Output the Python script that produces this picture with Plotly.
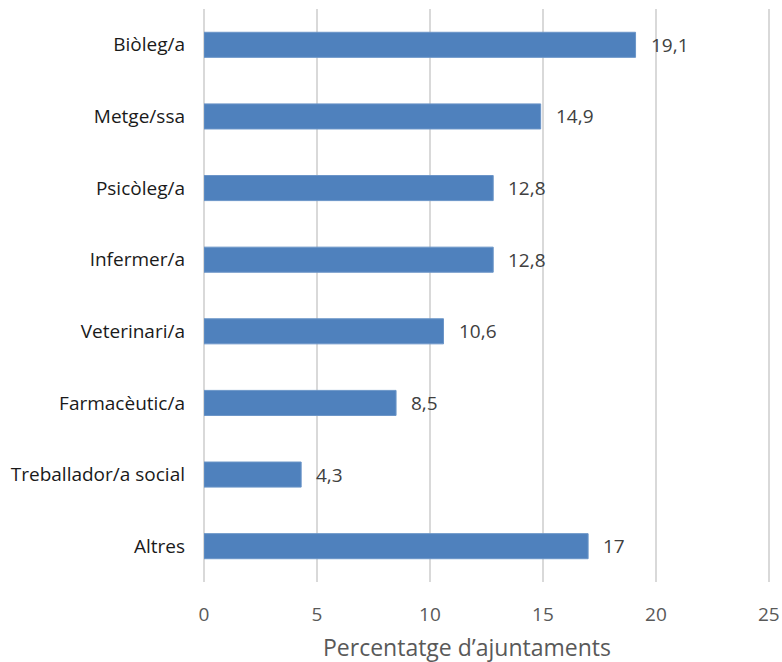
import plotly.graph_objects as go

categories = ["Biòleg/a", "Metge/ssa", "Psicòleg/a", "Infermer/a", "Veterinari/a",
              "Farmacèutic/a", "Treballador/a social", "Altres"]
values = [19.1, 14.9, 12.8, 12.8, 10.6, 8.5, 4.3, 17]
x_ticks = [0, 5, 10, 15, 20, 25]

labels = [f"{v:g}".replace(".", ",") for v in values]

fig = go.Figure()
fig.add_trace(go.Bar(
    x=values,
    y=categories,
    orientation="h",
    marker=dict(color="#4f81bd", line=dict(color="#6b95c8", width=1)),
    width=0.35,
    hoverinfo="skip",
))

for v, c, t in zip(values, categories, labels):
    fig.add_annotation(
        x=v, y=c, text=t, showarrow=False,
        xanchor="left", xshift=13,
        font=dict(family="Open Sans", size=19, color="#404040"),
    )

# axis title sits a bit left of the plot centre, as in the original
fig.add_annotation(
    text="Percentatge d’ajuntaments",
    xref="paper", yref="paper", x=0.465, y=0,
    xanchor="center", yanchor="middle", yshift=-65,
    showarrow=False,
    font=dict(family="Open Sans", size=23, color="#595959"),
)

fig.update_layout(
    width=782,
    height=662,
    margin=dict(l=204, r=12, t=9, b=80, autoexpand=False),
    plot_bgcolor="white",
    paper_bgcolor="white",
    showlegend=False,
    font=dict(family="Open Sans", color="#595959"),
)

fig.update_xaxes(
    range=[0, 25.05],
    tickvals=x_ticks,
    showgrid=True,
    gridcolor="#d9d9d9",
    gridwidth=1.5,
    zeroline=True,
    zerolinecolor="#d9d9d9",
    zerolinewidth=1.5,
    showline=False,
    automargin=False,
    ticklabelstandoff=19,
    tickfont=dict(size=19, color="#595959"),
)

fig.update_yaxes(
    categoryorder="array",
    categoryarray=categories,
    autorange="reversed",
    showgrid=False,
    zeroline=False,
    showline=False,
    automargin=False,
    ticklabelstandoff=18,
    tickfont=dict(size=19, color="#1a1a1a"),
)

fig.write_html(
    "out.html",
    config={"displayModeBar": False},
    post_script="document.body.style.margin='0';document.body.style.overflow='hidden';",
)
